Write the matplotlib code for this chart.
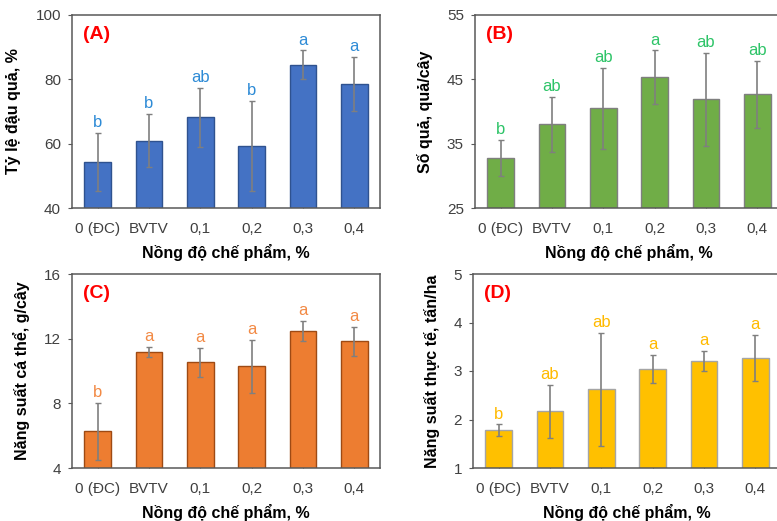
import matplotlib.pyplot as plt
import numpy as np

plt.rcParams["font.family"] = ["Liberation Sans", "DejaVu Sans"]

W, H = 777, 521

CATEGORIES = ["0 (ĐC)", "BVTV", "0,1", "0,2", "0,3", "0,4"]
XLABEL = "Nồng độ chế phẩm, %"

# (A) fruit set rate
A_MEAN = [54.4, 60.9, 68.2, 59.3, 84.6, 78.5]
A_ERR = [9.0, 8.3, 9.2, 13.9, 4.4, 8.4]
A_LETTERS = ["b", "b", "ab", "b", "a", "a"]

# (B) fruits per plant
B_MEAN = [32.8, 38.0, 40.5, 45.3, 41.9, 42.7]
B_ERR = [2.8, 4.3, 6.3, 4.2, 7.2, 5.2]
B_LETTERS = ["b", "ab", "ab", "a", "ab", "ab"]

# (C) yield per plant
C_MEAN = [6.27, 11.17, 10.55, 10.28, 12.47, 11.83]
C_ERR = [1.77, 0.30, 0.90, 1.65, 0.62, 0.88]
C_LETTERS = ["b", "a", "a", "a", "a", "a"]

# (D) actual yield
D_MEAN = [1.78, 2.17, 2.62, 3.04, 3.20, 3.27]
D_ERR = [0.12, 0.55, 1.17, 0.29, 0.21, 0.47]
D_LETTERS = ["b", "ab", "ab", "a", "a", "a"]

PANELS = [
    ("(A)", A_MEAN, A_ERR, A_LETTERS, "Tỷ lệ đậu quả, %", (40, 100), [40, 60, 80, 100],
     "#4472C4", "#2F528F", "#2E8BD6", (72, 15, 380, 208)),
    ("(B)", B_MEAN, B_ERR, B_LETTERS, "Số quả, quả/cây", (25, 55), [25, 35, 45, 55],
     "#70AD47", "#7F7F7F", "#2EC468", (475, 15, 783, 208)),
    ("(C)", C_MEAN, C_ERR, C_LETTERS, "Năng suất cá thể, g/cây", (4, 16), [4, 8, 12, 16],
     "#ED7D31", "#9E4A14", "#F28A45", (72, 274, 380, 468)),
    ("(D)", D_MEAN, D_ERR, D_LETTERS, "Năng suất thực tế, tấn/ha", (1, 5), [1, 2, 3, 4, 5],
     "#FFC000", "#A5A5A5", "#FFBA00", (473, 274, 781, 468)),
]


def draw_panel(fig, tag, mean, err, letters, ylabel, ylim, yticks, color, edge, letter_color, box):
    x0, y0, x1, y1 = box
    ax = fig.add_axes([x0 / W, 1 - y1 / H, (x1 - x0) / W, (y1 - y0) / H])
    x = np.arange(len(CATEGORIES))
    ax.bar(x, mean, width=0.52, color=color, edgecolor=edge, linewidth=1.0, zorder=2)
    ax.errorbar(x, mean, yerr=err, fmt="none", ecolor="#7F7F7F", elinewidth=1.2,
                capsize=2.5, capthick=1.0, zorder=3)
    for xi, m, e, lab in zip(x, mean, err, letters):
        ax.annotate(lab, (xi, m + e), xytext=(0, 2), textcoords="offset points",
                    ha="center", va="bottom", fontsize=12, color=letter_color)

    ax.set_xlim(-0.5, len(CATEGORIES) - 0.5)
    ax.set_ylim(*ylim)
    ax.set_yticks(yticks)
    ax.set_xticks(x)
    ax.set_xticklabels(CATEGORIES)
    ax.tick_params(axis="y", direction="out", length=3, color="#595959",
                   labelsize=11, labelcolor="#404040", pad=5)
    ax.tick_params(axis="x", direction="in", length=3, color="#595959",
                   labelsize=11, labelcolor="#404040", pad=10)
    for side in ax.spines.values():
        side.set_color("#595959")
        side.set_linewidth(1.1)

    ax.set_xlabel(XLABEL, fontsize=11.5, fontweight="bold", labelpad=6)
    ax.set_ylabel(ylabel, fontsize=11.5, fontweight="bold", labelpad=10)
    ax.text(0.035, 0.9, tag, transform=ax.transAxes, color="#FF0000",
            fontsize=14, fontweight="bold", ha="left", va="center")
    return ax


def main() -> None:
    fig = plt.figure(figsize=(W / 100, H / 100), dpi=100)
    for panel in PANELS:
        draw_panel(fig, *panel)
    fig.savefig("out.png", dpi=100)
    plt.close(fig)


if __name__ == "__main__":
    main()
